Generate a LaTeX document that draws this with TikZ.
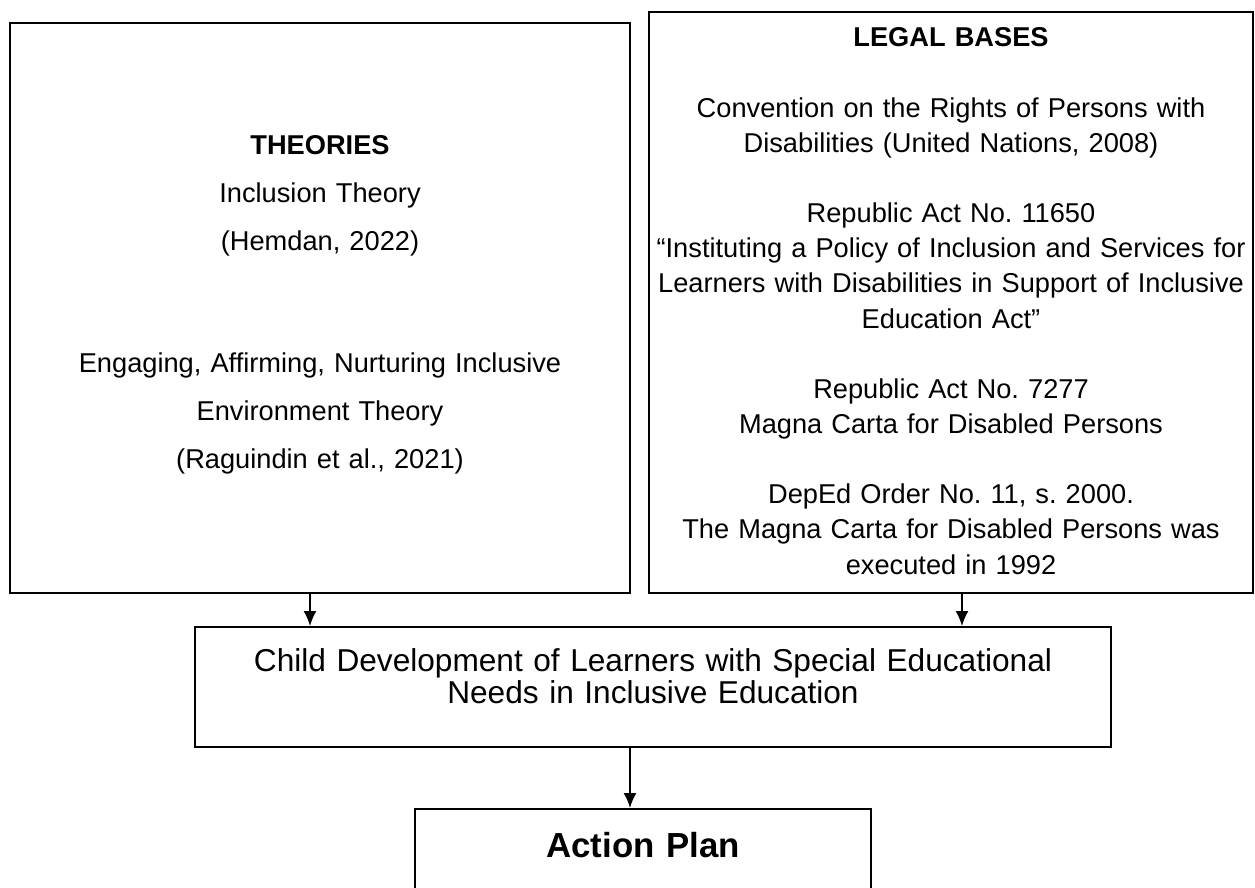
\documentclass[tikz,border=0pt]{standalone}
\usepackage{fontspec}
\setmainfont{Liberation Sans}
\usetikzlibrary{arrows.meta}
\frenchspacing

\begin{document}
\begin{tikzpicture}[x=0.02cm,y=-0.02cm,>={Latex[length=3mm,width=2.6mm]},
    caja/.style={draw,line width=1.1pt,align=center,inner sep=0pt,anchor=north},
    flecha/.style={->,line width=0.9pt}]
    % Marco de la hoja
    \useasboundingbox (0,0) rectangle (1255,888);
    \clip (0,0) rectangle (1255,888);

    % Teorias
    \node[caja, text width=12.4cm, text height=2.64cm, text depth=8.76cm,
      font=\fontsize{15.5}{27.2}\selectfont] (theories) at (320,22)
      {\textbf{THEORIES}\\ Inclusion Theory\\ (Hemdan, 2022)\\[42.5pt]
       Engaging, Affirming, Nurturing Inclusive\\ Environment Theory\\
       (Raguindin et al., 2021)};

    % Bases legales
    \node[caja, text width=12.08cm, text height=0.7cm, text depth=10.92cm,
      font=\fontsize{15.5}{20}\selectfont] (legal) at (951,11)
      {\textbf{LEGAL BASES}\\[20pt]
       Convention on the Rights of Persons with\\
       Disabilities (United Nations, 2008)\\[20pt]
       Republic Act No. 11650\\
       “Instituting a Policy of Inclusion and Services for\\
       Learners with Disabilities in Support of Inclusive\\
       Education Act”\\[20pt]
       Republic Act No. 7277\\
       Magna Carta for Disabled Persons\\[20pt]
       DepEd Order No. 11, s. 2000.\\
       The Magna Carta for Disabled Persons was\\
       executed in 1992};

    % Caja central
    \node[caja, text width=18.32cm, text height=0.9cm, text depth=1.5cm,
      font=\fontsize{18}{16.5}\selectfont] (child) at (653,626)
      {Child Development of Learners with Special Educational\\
       Needs in Inclusive Education};

    % Plan de accion (abierta por abajo)
    \node[caja, text width=9.12cm, text height=0.98cm, text depth=3cm,
      font=\fontsize{19.8}{19.8}\selectfont\bfseries] (plan) at (643,808) {Action Plan};

    % Flechas
    \coordinate (izq) at (310,0);
    \coordinate (der) at (962,0);
    \coordinate (centro) at (630,0);
    \draw[flecha] (theories.south -| izq) -- (child.north -| izq);
    \draw[flecha] (legal.south -| der) -- (child.north -| der);
    \draw[flecha] (child.south -| centro) -- (plan.north -| centro);

  \end{tikzpicture}
\end{document}
